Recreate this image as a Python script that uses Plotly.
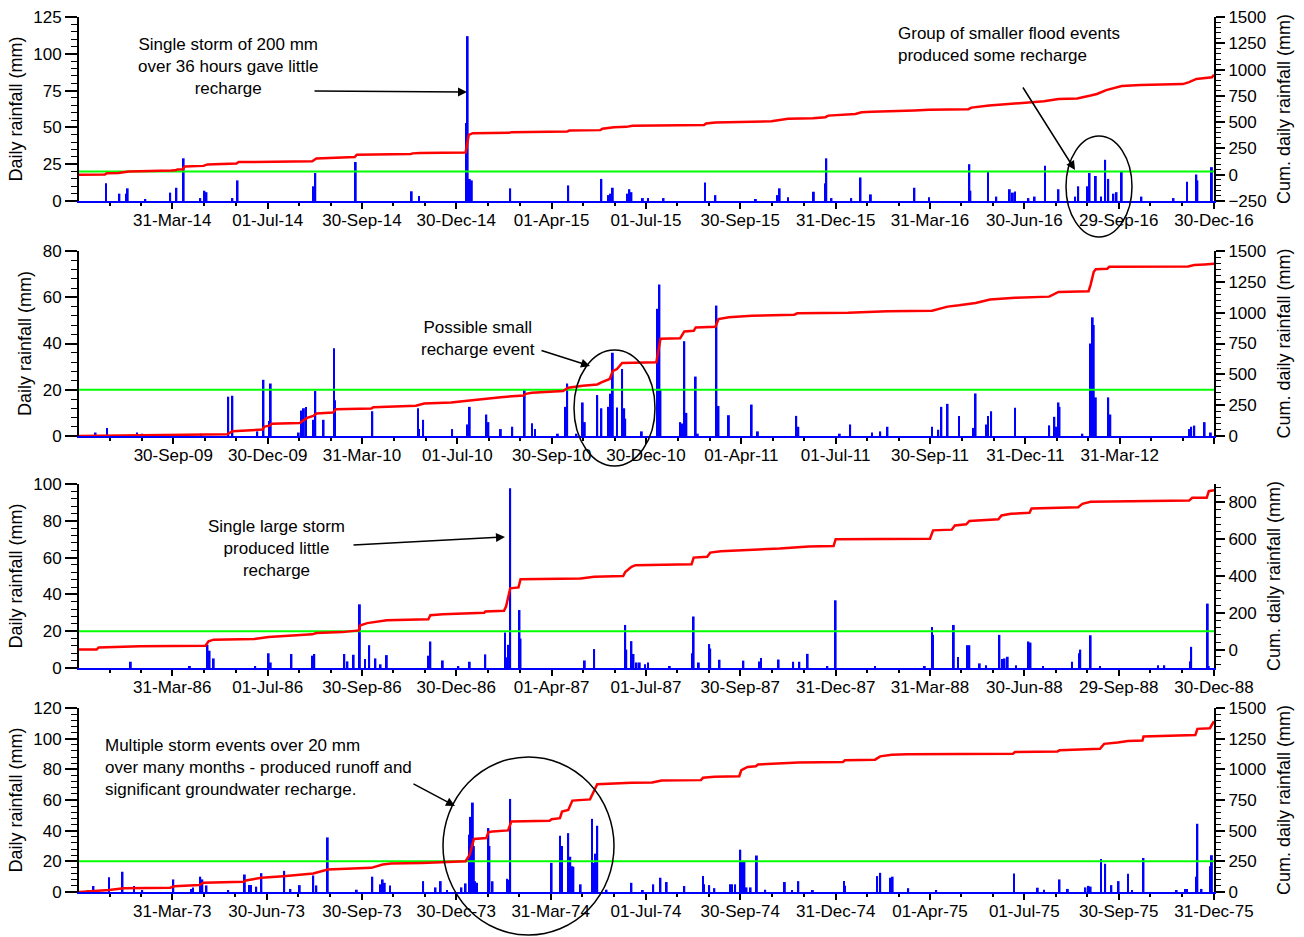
import datetime as dt
import plotly.graph_objects as go

W, H = 1304, 937
FONT = "Liberation Sans, Arial, Helvetica, sans-serif"
BLUE = "#0000ff"
RED = "#ff0000"
GREEN = "#00ff00"
THRESHOLD_MM = 20
DAY_MS = 86400000

# ---------------- Panel 1 : 2014 - 2016 ----------------
P1_RANGE = ["2013-12-31", "2016-12-30"]
P1_TICKS = ["31-Mar-14", "01-Jul-14", "30-Sep-14", "30-Dec-14", "01-Apr-15", "01-Jul-15",
            "30-Sep-15", "31-Dec-15", "31-Mar-16", "30-Jun-16", "29-Sep-16", "30-Dec-16"]
P1_RAIN_DATES = ["2014-01-26", "2014-02-08", "2014-02-15", "2014-02-16", "2014-03-05", "2014-03-29",
                 "2014-04-04", "2014-04-11", "2014-04-27", "2014-05-01", "2014-05-03", "2014-05-28",
                 "2014-06-02", "2014-08-14", "2014-08-16", "2014-09-24", "2014-11-17", "2014-11-24",
                 "2015-01-09", "2015-01-10", "2015-01-12", "2015-01-14", "2015-02-20", "2015-04-17",
                 "2015-05-19", "2015-05-26", "2015-05-28", "2015-05-30", "2015-06-13", "2015-06-15",
                 "2015-06-17", "2015-06-28", "2015-07-03", "2015-07-18", "2015-08-27", "2015-09-06",
                 "2015-10-15", "2015-11-05", "2015-11-07", "2015-11-15", "2015-12-10", "2015-12-21",
                 "2015-12-22", "2015-12-27", "2016-01-15", "2016-01-24", "2016-02-03", "2016-03-16",
                 "2016-03-30", "2016-05-08", "2016-05-09", "2016-05-26", "2016-06-03", "2016-06-16",
                 "2016-06-19", "2016-06-21", "2016-07-04", "2016-07-10", "2016-07-20", "2016-08-02",
                 "2016-08-18", "2016-08-21", "2016-08-30", "2016-09-01", "2016-09-07", "2016-09-12",
                 "2016-09-16", "2016-09-19", "2016-09-24", "2016-09-27", "2016-10-02", "2016-10-21",
                 "2016-11-21", "2016-12-04", "2016-12-13", "2016-12-14", "2016-12-28"]
P1_RAIN_MM = [12, 5, 5, 8.6, 1, 5.7,
              9, 29, 2, 7, 6, 2,
              14, 10, 19, 26.5, 6.6, 3.4,
              53, 112, 15, 14, 8.6, 10.6,
              15, 4, 5, 9, 5, 8,
              6, 2, 2, 2, 12.5, 4,
              1, 4, 8.6, 2.5, 6.3, 12,
              29, 2, 2, 16, 4.5, 9,
              2.5, 25, 7, 20, 3, 8,
              5.7, 6.4, 2, 3, 24, 8,
              3, 10, 10, 19, 17, 3,
              28, 15, 5, 6, 20, 3,
              2, 13, 18, 14, 23]
P1_CUM_DATES = ["2013-12-31", "2014-01-25", "2014-01-27", "2014-02-07", "2014-02-17", "2014-03-28",
                "2014-03-30", "2014-04-03", "2014-04-05", "2014-04-10", "2014-04-12", "2014-04-30",
                "2014-05-04", "2014-06-01", "2014-06-03", "2014-08-13", "2014-08-17", "2014-09-23",
                "2014-09-25", "2014-11-16", "2014-11-18", "2014-11-25", "2015-01-08", "2015-01-11",
                "2015-01-15", "2015-02-19", "2015-02-21", "2015-04-16", "2015-04-18", "2015-05-18",
                "2015-05-20", "2015-05-31", "2015-06-12", "2015-06-18", "2015-08-26", "2015-08-28",
                "2015-09-06", "2015-10-30", "2015-11-07", "2015-11-15", "2015-12-09", "2015-12-21",
                "2015-12-24", "2016-01-19", "2016-01-25", "2016-02-04", "2016-03-16", "2016-03-30",
                "2016-05-07", "2016-05-10", "2016-05-27", "2016-06-17", "2016-06-29", "2016-07-19",
                "2016-08-02", "2016-08-20", "2016-09-02", "2016-09-08", "2016-09-17", "2016-09-22",
                "2016-10-02", "2016-10-20", "2016-11-30", "2016-12-06", "2016-12-13", "2016-12-28",
                "2016-12-30"]
P1_CUM_MM = [0, 3, 14, 16, 30, 34,
             40, 42, 50, 51, 78, 84,
             98, 106, 120, 128, 155, 168,
             190, 197, 203, 207, 212, 378,
             395, 398, 405, 410, 420, 424,
             438, 452, 455, 466, 472, 487,
             496, 508, 523, 532, 538, 547,
             562, 578, 593, 599, 611, 617,
             623, 638, 659, 674, 689, 698,
             720, 726, 753, 768, 805, 820,
             844, 853, 862, 880, 911, 926,
             950]

# ---------------- Panel 2 : 2009 - 2012 ----------------
P2_RANGE = ["2009-07-01", "2012-06-30"]
P2_TICKS = ["30-Sep-09", "30-Dec-09", "31-Mar-10", "01-Jul-10", "30-Sep-10", "30-Dec-10",
            "01-Apr-11", "01-Jul-11", "30-Sep-11", "31-Dec-11", "31-Mar-12"]
P2_RAIN_DATES = ["2009-07-17", "2009-07-28", "2009-08-26", "2009-08-31", "2009-10-27", "2009-11-22",
                 "2009-11-26", "2009-12-20", "2009-12-26", "2010-01-01", "2010-01-02", "2010-01-29",
                 "2010-02-01", "2010-02-03", "2010-02-05", "2010-02-12", "2010-02-14", "2010-02-22",
                 "2010-03-04", "2010-03-05", "2010-04-10", "2010-05-24", "2010-05-25", "2010-05-29",
                 "2010-06-26", "2010-07-11", "2010-07-13", "2010-07-29", "2010-07-31", "2010-08-12",
                 "2010-08-23", "2010-09-04", "2010-09-11", "2010-09-14", "2010-10-06", "2010-10-13",
                 "2010-10-15", "2010-10-24", "2010-10-30", "2010-11-01", "2010-11-13", "2010-11-17",
                 "2010-11-24", "2010-11-26", "2010-11-28", "2010-12-02", "2010-12-07", "2010-12-09",
                 "2010-12-10", "2010-12-26", "2011-01-10", "2011-01-11", "2011-01-12", "2011-01-13",
                 "2011-02-01", "2011-02-03", "2011-02-05", "2011-02-07", "2011-02-16", "2011-02-18",
                 "2011-03-08", "2011-03-10", "2011-03-20", "2011-04-11", "2011-04-17", "2011-05-24",
                 "2011-05-26", "2011-07-05", "2011-07-15", "2011-08-05", "2011-08-13", "2011-08-20",
                 "2011-10-02", "2011-10-08", "2011-10-11", "2011-10-17", "2011-10-28", "2011-11-11",
                 "2011-11-13", "2011-11-23", "2011-11-25", "2011-11-28", "2011-12-21", "2012-01-23",
                 "2012-01-28", "2012-01-30", "2012-02-01", "2012-02-02", "2012-02-24", "2012-03-03",
                 "2012-03-05", "2012-03-06", "2012-03-08", "2012-03-20", "2012-03-22", "2012-06-06",
                 "2012-06-08", "2012-06-11", "2012-06-21", "2012-06-27"]
P2_RAIN_MM = [1.5, 3.5, 1.5, 1, 1, 17,
              17.4, 2, 24.3, 6.5, 22.7, 1.5,
              11, 12, 12.5, 7, 19.5, 7,
              38, 15.5, 10.7, 12, 3, 7,
              3, 5, 12.6, 9.3, 6, 3,
              4, 20, 5.5, 3, 1, 12.6,
              22.7, 1, 14.5, 6, 17.7, 12,
              12.6, 18.3, 36, 12.3, 29, 12,
              7.5, 2, 55, 30, 65.5, 20,
              6, 5.4, 41, 10, 25.7, 1,
              56.4, 13, 9, 13.6, 2, 8.7,
              4, 1, 5, 1.5, 2, 4,
              4, 2.7, 12.6, 13.9, 8.7, 3.5,
              18.4, 5, 8.6, 10.7, 12.2, 4.6,
              8.3, 4, 14.5, 12.6, 1, 40,
              51.3, 48, 16.7, 16.7, 9.3, 3,
              4, 4.5, 6, 1.5]
P2_CUM_DATES = ["2009-07-01", "2009-07-27", "2009-07-29", "2009-11-21", "2009-11-26", "2009-12-25",
                "2009-12-27", "2010-01-01", "2010-01-03", "2010-01-30", "2010-02-06", "2010-02-12",
                "2010-02-15", "2010-03-03", "2010-03-06", "2010-04-09", "2010-04-11", "2010-05-22",
                "2010-05-30", "2010-06-25", "2010-07-13", "2010-07-30", "2010-08-12", "2010-09-03",
                "2010-09-05", "2010-09-11", "2010-10-11", "2010-10-16", "2010-10-30", "2010-11-13",
                "2010-11-17", "2010-11-25", "2010-11-28", "2010-12-02", "2010-12-07", "2011-01-09",
                "2011-01-13", "2011-02-01", "2011-02-05", "2011-02-14", "2011-02-16", "2011-03-07",
                "2011-03-10", "2011-03-20", "2011-04-11", "2011-05-22", "2011-05-25", "2011-07-13",
                "2011-08-20", "2011-10-02", "2011-10-11", "2011-10-17", "2011-10-28", "2011-11-13",
                "2011-11-27", "2011-12-21", "2012-01-23", "2012-02-01", "2012-03-01", "2012-03-03",
                "2012-03-06", "2012-03-08", "2012-03-19", "2012-03-21", "2012-06-05", "2012-06-11",
                "2012-06-21", "2012-06-30"]
P2_CUM_MM = [0, 2, 5, 14, 38, 52,
             76, 84, 100, 106, 147, 163,
             182, 190, 217, 223, 234, 245,
             264, 272, 288, 304, 315, 329,
             342, 351, 364, 391, 408, 418,
             435, 462, 527, 543, 592, 598,
             788, 793, 848, 853, 880, 886,
             948, 962, 975, 984, 995, 1000,
             1011, 1016, 1033, 1049, 1060, 1079,
             1106, 1120, 1130, 1168, 1174, 1228,
             1332, 1353, 1356, 1372, 1375, 1386,
             1391, 1397]

# ---------------- Panel 3 : 1986 - 1988 ----------------
P3_RANGE = ["1985-12-31", "1988-12-30"]
P3_TICKS = ["31-Mar-86", "01-Jul-86", "30-Sep-86", "30-Dec-86", "01-Apr-87", "01-Jul-87",
            "30-Sep-87", "31-Dec-87", "31-Mar-88", "30-Jun-88", "29-Sep-88", "30-Dec-88"]
P3_RAIN_DATES = ["1986-02-19", "1986-04-17", "1986-05-04", "1986-05-06", "1986-05-10", "1986-06-19",
                 "1986-07-02", "1986-07-04", "1986-07-24", "1986-08-13", "1986-08-15", "1986-09-13",
                 "1986-09-16", "1986-09-22", "1986-09-28", "1986-10-03", "1986-10-07", "1986-10-13",
                 "1986-10-18", "1986-10-24", "1986-12-03", "1986-12-05", "1986-12-17", "1987-01-01",
                 "1987-01-12", "1987-01-27", "1987-02-15", "1987-02-17", "1987-02-18", "1987-02-20",
                 "1987-03-01", "1987-03-02", "1987-05-03", "1987-05-12", "1987-06-11", "1987-06-12",
                 "1987-06-17", "1987-06-19", "1987-06-22", "1987-06-25", "1987-06-30", "1987-07-03",
                 "1987-07-24", "1987-08-15", "1987-08-16", "1987-08-21", "1987-08-31", "1987-09-01",
                 "1987-09-10", "1987-10-03", "1987-10-18", "1987-10-20", "1987-11-06", "1987-11-20",
                 "1987-11-26", "1987-12-04", "1987-12-23", "1987-12-31", "1988-02-07", "1988-03-26",
                 "1988-04-02", "1988-04-03", "1988-04-23", "1988-04-27", "1988-05-06", "1988-05-08",
                 "1988-05-18", "1988-05-24", "1988-06-06", "1988-06-09", "1988-06-11", "1988-06-14",
                 "1988-06-22", "1988-07-04", "1988-07-06", "1988-07-18", "1988-08-15", "1988-08-22",
                 "1988-08-23", "1988-09-02", "1988-09-11", "1988-11-06", "1988-11-12", "1988-12-07",
                 "1988-12-08", "1988-12-24", "1988-12-25"]
P3_RAIN_MM = [3.4, 1, 12.6, 9.4, 5.2, 1,
              8, 3, 7.6, 6.7, 7.6, 7.6,
              3.6, 7.2, 34.6, 4.9, 12.4, 5.2,
              2, 7, 6.7, 14.4, 4.1, 1,
              3.4, 7.4, 19.3, 5.8, 12.6, 97.7,
              31.5, 16, 4.1, 10.3, 23.4, 10,
              14.6, 7.6, 3, 3, 2, 3,
              1, 8, 28, 3, 13, 10.6,
              4.5, 4, 3.5, 5.5, 4.6, 3.4,
              3.4, 7.7, 1, 36.8, 1, 1,
              22.3, 18, 23.4, 6, 12.4, 12.4,
              2.5, 1.5, 18, 4.9, 5.2, 6.1,
              1.5, 14.4, 13.8, 1, 3.4, 8,
              10, 17.8, 1, 1.5, 1.5, 3.6,
              11.5, 35, 1]
P3_CUM_DATES = ["1985-12-31", "1986-01-17", "1986-01-19", "1986-02-28", "1986-05-02", "1986-05-05",
                "1986-05-10", "1986-06-18", "1986-07-02", "1986-07-24", "1986-08-13", "1986-08-17",
                "1986-09-11", "1986-09-27", "1986-09-28", "1986-10-05", "1986-10-17", "1986-10-24",
                "1986-12-03", "1986-12-05", "1986-12-17", "1987-01-26", "1987-01-27", "1987-02-14",
                "1987-02-16", "1987-02-20", "1987-02-28", "1987-03-02", "1987-04-29", "1987-05-12",
                "1987-06-09", "1987-06-11", "1987-06-17", "1987-06-21", "1987-08-14", "1987-08-16",
                "1987-08-29", "1987-09-01", "1987-09-11", "1987-10-18", "1987-11-07", "1987-12-05",
                "1987-12-29", "1987-12-31", "1988-03-31", "1988-04-03", "1988-04-21", "1988-04-24",
                "1988-05-05", "1988-05-08", "1988-06-05", "1988-06-08", "1988-06-17", "1988-07-05",
                "1988-07-07", "1988-08-21", "1988-08-25", "1988-09-02", "1988-12-06", "1988-12-09",
                "1988-12-23", "1988-12-25", "1988-12-30"]
P3_CUM_MM = [0, 0, 12, 18, 21, 45,
             54, 57, 68, 75, 83, 90,
             95, 104, 131, 144, 153, 160,
             165, 187, 192, 200, 207, 211,
             234, 333, 338, 383, 387, 396,
             400, 421, 450, 459, 464, 500,
             505, 527, 535, 542, 549, 560,
             563, 600, 603, 648, 652, 675,
             681, 699, 708, 729, 738, 744,
             767, 774, 792, 803, 810, 825,
             825, 861, 866]

# ---------------- Panel 4 : 1973 - 1975 ----------------
P4_RANGE = ["1972-12-31", "1975-12-31"]
P4_TICKS = ["31-Mar-73", "30-Jun-73", "30-Sep-73", "30-Dec-73", "31-Mar-74", "01-Jul-74",
            "30-Sep-74", "31-Dec-74", "01-Apr-75", "01-Jul-75", "30-Sep-75", "31-Dec-75"]
P4_RAIN_DATES = ["1973-01-09", "1973-01-14", "1973-01-29", "1973-02-11", "1973-02-22", "1973-03-02",
                 "1973-04-01", "1973-04-18", "1973-04-20", "1973-04-27", "1973-04-29", "1973-05-03",
                 "1973-05-24", "1973-06-09", "1973-06-13", "1973-06-15", "1973-06-20", "1973-06-25",
                 "1973-07-17", "1973-07-23", "1973-08-01", "1973-08-14", "1973-08-17", "1973-08-28",
                 "1973-09-25", "1973-10-10", "1973-10-18", "1973-10-20", "1973-10-22", "1973-10-27",
                 "1973-11-28", "1973-12-10", "1973-12-15", "1973-12-21", "1974-01-04", "1974-01-08",
                 "1974-01-12", "1974-01-13", "1974-01-15", "1974-01-16", "1974-01-17", "1974-01-19",
                 "1974-01-30", "1974-01-31", "1974-02-03", "1974-02-17", "1974-02-18", "1974-02-20",
                 "1974-04-01", "1974-04-09", "1974-04-11", "1974-04-17", "1974-04-19", "1974-04-21",
                 "1974-04-22", "1974-04-29", "1974-05-10", "1974-05-11", "1974-05-13", "1974-05-15",
                 "1974-05-24", "1974-06-17", "1974-06-28", "1974-07-08", "1974-07-15", "1974-07-21",
                 "1974-08-07", "1974-08-25", "1974-08-26", "1974-08-31", "1974-09-05", "1974-09-20",
                 "1974-09-22", "1974-09-25", "1974-09-30", "1974-10-02", "1974-10-04", "1974-10-06",
                 "1974-10-10", "1974-10-16", "1974-10-24", "1974-11-12", "1974-11-19", "1974-11-25",
                 "1974-12-09", "1975-01-08", "1975-01-09", "1975-02-09", "1975-02-12", "1975-02-22",
                 "1975-02-24", "1975-03-11", "1975-04-07", "1975-06-21", "1975-07-14", "1975-07-20",
                 "1975-08-04", "1975-08-12", "1975-08-29", "1975-09-01", "1975-09-03", "1975-09-13",
                 "1975-09-17", "1975-09-23", "1975-09-30", "1975-10-09", "1975-10-13", "1975-10-24",
                 "1975-11-25", "1975-12-03", "1975-12-05", "1975-12-14", "1975-12-15", "1975-12-19",
                 "1975-12-28", "1975-12-29"]
P4_RAIN_MM = [1, 3.9, 9.7, 13.2, 3.9, 1,
              8.2, 2, 3, 10, 8.2, 4.3,
              1, 11.4, 4.5, 4.5, 3.5, 12.3,
              13.8, 2, 4.5, 10.8, 4.3, 35.6,
              1.5, 10, 5, 8.2, 6, 4.3,
              7.1, 3, 7.1, 1, 3, 5.6,
              37.4, 49, 58.3, 30, 7, 6,
              41.7, 30, 7, 8.6, 8, 60.7,
              19, 36.7, 30, 38.4, 23, 16.8,
              16.4, 5, 47.7, 19, 25, 43.2,
              1.5, 6, 1, 5, 9.3, 6.5,
              3.9, 10.4, 5, 4.5, 2.5, 5,
              5, 5, 27.6, 20, 20, 3,
              3, 23.8, 1.5, 6.5, 1, 7.1,
              1, 7.1, 4, 10.4, 12.5, 9.3,
              10, 2.5, 1, 12.1, 2.8, 1.5,
              8.2, 2, 3, 4, 3.5, 21.6,
              18.4, 4.5, 7.1, 11.9, 1, 22.2,
              1, 2, 2, 10, 44.5, 2,
              16.8, 24]
P4_CUM_DATES = ["1972-12-31", "1973-01-29", "1973-02-12", "1973-03-29", "1973-04-02", "1973-04-26",
                "1973-04-30", "1973-06-08", "1973-06-10", "1973-06-25", "1973-07-16", "1973-08-14",
                "1973-08-28", "1973-10-09", "1973-10-20", "1973-10-28", "1973-11-27", "1973-12-15",
                "1974-01-08", "1974-01-12", "1974-01-16", "1974-01-28", "1974-01-30", "1974-02-03",
                "1974-02-18", "1974-02-21", "1974-03-30", "1974-04-01", "1974-04-09", "1974-04-11",
                "1974-04-17", "1974-04-21", "1974-04-29", "1974-05-08", "1974-05-11", "1974-05-15",
                "1974-06-17", "1974-07-07", "1974-07-16", "1974-08-23", "1974-08-25", "1974-09-05",
                "1974-09-29", "1974-10-01", "1974-10-07", "1974-10-15", "1974-10-17", "1974-11-12",
                "1974-11-25", "1975-01-07", "1975-01-09", "1975-02-07", "1975-02-12", "1975-02-23",
                "1975-03-10", "1975-06-20", "1975-06-22", "1975-08-02", "1975-08-04", "1975-09-12",
                "1975-09-16", "1975-09-29", "1975-10-09", "1975-10-23", "1975-10-24", "1975-12-13",
                "1975-12-15", "1975-12-27", "1975-12-31"]
P4_CUM_MM = [0, 16, 30, 35, 46, 57,
             76, 84, 94, 116, 129, 151,
             183, 197, 224, 232, 237, 245,
             251, 305, 432, 440, 488, 494,
             502, 575, 580, 593, 602, 656,
             669, 745, 750, 755, 809, 879,
             890, 893, 909, 912, 931, 939,
             944, 993, 1020, 1025, 1039, 1047,
             1055, 1060, 1074, 1079, 1106, 1119,
             1122, 1128, 1141, 1146, 1155, 1168,
             1208, 1219, 1230, 1235, 1268, 1279,
             1330, 1335, 1392]

# Panel layout: pixel top/bottom of each plotting box and axis scales
PLOT_LEFT_PX, PLOT_RIGHT_PX = 79, 1214
PANELS = [
    dict(rng=P1_RANGE, ticks=P1_TICKS, rd=P1_RAIN_DATES, rv=P1_RAIN_MM, cd=P1_CUM_DATES, cv=P1_CUM_MM,
         top=17, bottom=201, left=(0, 125, 25, 5), right=(-250, 1500, 250, 50)),
    dict(rng=P2_RANGE, ticks=P2_TICKS, rd=P2_RAIN_DATES, rv=P2_RAIN_MM, cd=P2_CUM_DATES, cv=P2_CUM_MM,
         top=251, bottom=436, left=(0, 80, 20, 4), right=(0, 1500, 250, 50)),
    dict(rng=P3_RANGE, ticks=P3_TICKS, rd=P3_RAIN_DATES, rv=P3_RAIN_MM, cd=P3_CUM_DATES, cv=P3_CUM_MM,
         top=484, bottom=668, left=(0, 100, 20, 4), right=(-100, 900, 200, 40)),
    dict(rng=P4_RANGE, ticks=P4_TICKS, rd=P4_RAIN_DATES, rv=P4_RAIN_MM, cd=P4_CUM_DATES, cv=P4_CUM_MM,
         top=708, bottom=892, left=(0, 120, 20, 4), right=(0, 1500, 250, 50)),
]


def px_x(px):
    return px / W


def px_y(py):
    return 1 - py / H


def parse_label(s):
    return dt.datetime.strptime(s, "%d-%b-%y")


def axis_ticks(rng, labels):
    """Major ticks at the labelled dates, minor ticks at thirds between them."""
    start = dt.datetime.fromisoformat(rng[0])
    end = dt.datetime.fromisoformat(rng[1])
    majors = [parse_label(s) for s in labels]
    texts = list(labels)
    if (end - majors[-1]).days > 5:
        majors.append(end)
        texts.append("")
    bounds = [start] + majors
    minors = []
    for a, b in zip(bounds[:-1], bounds[1:]):
        step = (b - a) / 3
        minors += [a + step, a + 2 * step]
    return majors, texts, minors


fig = go.Figure()
layout = dict(width=W, height=H, autosize=False, margin=dict(l=0, r=0, t=0, b=0, pad=0),
              paper_bgcolor="white", plot_bgcolor="white", showlegend=False,
              font=dict(family=FONT, color="black", size=17))

tick_font = dict(family=FONT, size=17, color="black")
title_font = dict(family=FONT, size=18, color="black")

for i, p in enumerate(PANELS):
    xn = "x" if i == 0 else f"x{i + 1}"
    yl = "y" if i == 0 else f"y{2 * i + 1}"
    yr = f"y{2 * i + 2}"
    xkey = "xaxis" if i == 0 else f"xaxis{i + 1}"
    ylkey = "yaxis" if i == 0 else f"yaxis{2 * i + 1}"
    yrkey = f"yaxis{2 * i + 2}"

    majors, texts, minors = axis_ticks(p["rng"], p["ticks"])
    layout[xkey] = dict(
        domain=[px_x(PLOT_LEFT_PX), px_x(PLOT_RIGHT_PX)], anchor=yl, type="date",
        range=p["rng"], tickmode="array", tickvals=majors, ticktext=texts,
        ticks="outside", ticklen=6, tickwidth=1.5, tickcolor="black",
        ticklabelstandoff=-3,
        minor=dict(tickmode="array", tickvals=minors, ticks="outside", ticklen=3,
                   tickwidth=1.5, tickcolor="black", showgrid=False),
        showline=True, linecolor=BLUE, linewidth=2, showgrid=False, zeroline=False,
        automargin=False, tickfont=tick_font)
    lo, hi, dtick, mdt = p["left"]
    layout[ylkey] = dict(
        domain=[px_y(p["bottom"]), px_y(p["top"])], anchor=xn, range=[lo, hi],
        tickmode="linear", tick0=0, dtick=dtick, ticks="outside", ticklen=12,
        tickwidth=1.5, tickcolor="black",
        minor=dict(dtick=mdt, tick0=0, ticks="outside", ticklen=6, tickwidth=1.2,
                   tickcolor="black", showgrid=False),
        showline=True, linecolor="black", linewidth=2, showgrid=False, zeroline=False,
        automargin=False, tickfont=tick_font,
        title=dict(text="Daily rainfall (mm)", font=title_font, standoff=6))
    lo, hi, dtick, mdt = p["right"]
    layout[yrkey] = dict(
        overlaying=yl, side="right", anchor=xn, range=[lo, hi],
        tickmode="linear", tick0=0, dtick=dtick, ticks="outside", ticklen=9,
        tickwidth=1.5, tickcolor="black",
        minor=dict(dtick=mdt, tick0=0, ticks="outside", ticklen=5, tickwidth=1.2,
                   tickcolor="black", showgrid=False),
        showline=True, linecolor="black", linewidth=2, showgrid=False, zeroline=False,
        automargin=False, tickfont=tick_font,
        title=dict(text="Cum. daily rainfall (mm)", font=title_font, standoff=12))

    # 20 mm threshold line
    fig.add_trace(go.Scatter(x=p["rng"], y=[THRESHOLD_MM, THRESHOLD_MM], mode="lines",
                             line=dict(color=GREEN, width=2), xaxis=xn, yaxis=yl,
                             hoverinfo="skip"))
    # daily rainfall bars
    fig.add_trace(go.Bar(x=p["rd"], y=p["rv"], width=1.8 * DAY_MS, marker_color=BLUE,
                         marker_line_width=0, xaxis=xn, yaxis=yl))
    # cumulative rainfall
    fig.add_trace(go.Scatter(x=p["cd"], y=p["cv"], mode="lines",
                             line=dict(color=RED, width=2.5), xaxis=xn, yaxis=yr))

# Notes on the panels
NOTES = [
    dict(text="Single storm of 200 mm<br>over 36 hours gave little<br>recharge", x=228, y=67, anchor="center"),
    dict(text="Group of smaller flood events<br>produced some recharge", x=896, y=45, anchor="left"),
    dict(text="Possible small<br>recharge event", x=478, y=338, anchor="center"),
    dict(text="Single large storm<br>produced little<br>recharge", x=276, y=548, anchor="center"),
    dict(text="Multiple storm events over 20 mm<br>over many months - produced runoff and<br>"
              "significant groundwater recharge.", x=103, y=767, anchor="left"),
]
ARROWS = [((313, 91), (467, 92)), ((1022, 86), (1075, 170)), ((540, 350), (590, 366)),
          ((352, 545), (505, 537)), ((412, 783), (455, 806))]
ELLIPSES = [(1066, 136, 1132, 237), (574, 350, 655, 466), (443, 757, 614, 935)]

annotations = []
for n in NOTES:
    annotations.append(dict(text=n["text"], xref="paper", yref="paper", x=px_x(n["x"]), y=px_y(n["y"]),
                            xanchor=n["anchor"], yanchor="middle", align=n["anchor"], showarrow=False,
                            font=dict(family=FONT, size=17, color="black")))
for (tx, ty), (hx, hy) in ARROWS:
    annotations.append(dict(text="", xref="paper", yref="paper", x=px_x(hx), y=px_y(hy),
                            ax=tx - hx, ay=ty - hy, showarrow=True, arrowhead=2, arrowsize=1.2,
                            arrowwidth=1.5, arrowcolor="black"))
layout["annotations"] = annotations
layout["shapes"] = [dict(type="circle", xref="paper", yref="paper", x0=px_x(x0), x1=px_x(x1),
                         y0=px_y(y1), y1=px_y(y0), line=dict(color="black", width=1.5))
                    for x0, y0, x1, y1 in ELLIPSES]

fig.update_layout(**layout)
fig.write_html("out.html")
